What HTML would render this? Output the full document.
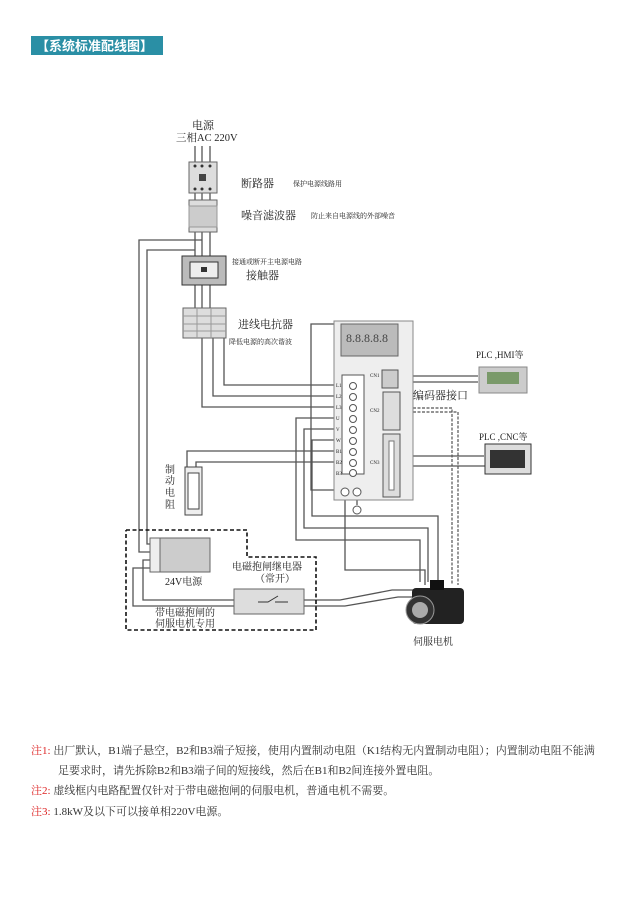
<!DOCTYPE html>
<html><head><meta charset="utf-8"><style>
body{margin:0;background:#fff;width:636px;height:900px;overflow:hidden;font-family:"Liberation Serif","Noto Serif CJK SC",serif}
svg{position:absolute;left:0;top:0}
text{font-family:"Liberation Serif","Noto Serif CJK SC",serif;fill:#222}
.n{position:absolute;left:31px;font-size:11px;color:#333;line-height:20px}
.n b{color:#d22;font-weight:normal}
</style></head><body>
<svg width="636" height="900" viewBox="0 0 636 900">
<rect x="31" y="36" width="132" height="19" fill="#2a8fa5"/>
<text x="36" y="50.5" font-size="13" style="fill:#fff;font-family:'Liberation Sans','Noto Sans CJK SC',sans-serif;font-weight:bold">【系统标准配线图】</text>

<g fill="none" stroke="#555" stroke-width="1.3">
<path d="M195 146V165M202 146V165M210 146V165"/>
<path d="M195 193V201M202 193V201M210 193V201"/>
<path d="M195 232V257M202 232V257M210 232V257"/>
<path d="M195 285V309M202 285V309M210 285V309"/>
<path d="M202 240H139V552H152"/>
<path d="M195 250H147V544H152"/>
<path d="M224 330V385H342"/>
<path d="M213 330V396H342"/>
<path d="M202 330V407H342"/>
<path d="M342 418H296V540H420V582"/>
<path d="M342 429H304V528H428V582"/>
<path d="M342 440H312V516H438V582"/>
<path d="M342 451H187V468"/>
<path d="M342 462H196V468"/>
<path d="M345 495V570H425V585"/>
<path d="M357 495V505"/>
<path d="M342 324H311V490H342"/>
<path d="M413 376H478M413 382H478"/>
<path d="M413 456H484M413 466H502"/>
<path d="M152 560H143V600H234M152 568H133V606H234"/>
<path d="M304 600H340L392 590H440M304 606H345L398 597H442"/>
</g>
<g fill="none" stroke="#555" stroke-width="1.2" stroke-dasharray="3,1.5">
<path d="M413 408H452V585M413 412H458V585"/>
</g>
<polyline points="126,530 247,530 247,557 316,557 316,630 126,630 126,530" fill="none" stroke="#111" stroke-width="1.6" stroke-dasharray="4,2.5"/>

<rect x="189" y="162" width="28" height="31" fill="#ddd" stroke="#666"/>
<rect x="199" y="174" width="7" height="7" fill="#444"/>
<circle cx="195" cy="166" r="1.5" fill="#333"/><circle cx="202" cy="166" r="1.5" fill="#333"/><circle cx="210" cy="166" r="1.5" fill="#333"/>
<circle cx="195" cy="189" r="1.5" fill="#333"/><circle cx="202" cy="189" r="1.5" fill="#333"/><circle cx="210" cy="189" r="1.5" fill="#333"/>
<rect x="189" y="200" width="28" height="32" fill="#ddd" stroke="#666"/>
<rect x="189" y="206" width="28" height="21" fill="#ccc" stroke="#999"/>
<rect x="182" y="256" width="44" height="29" fill="#bbb" stroke="#333"/>
<rect x="190" y="262" width="28" height="16" fill="#eee" stroke="#333"/>
<rect x="201" y="267" width="6" height="5" fill="#333"/>
<rect x="183" y="308" width="43" height="30" fill="#ddd" stroke="#666"/>
<path d="M197 308V338M211 308V338M183 316H226M183 324H226M183 331H226" stroke="#999"/>

<rect x="334" y="321" width="79" height="179" fill="#eee" stroke="#888"/>
<rect x="341" y="324" width="57" height="32" fill="#bbb" stroke="#666"/>
<text x="346" y="342" font-size="12" style="fill:#444">8.8.8.8.8</text>
<rect x="342" y="375" width="22" height="99" fill="#fff" stroke="#555"/>
<g font-size="5" style="fill:#111;font-family:'Liberation Sans',sans-serif">
<text x="336" y="387">L1</text><text x="336" y="398">L2</text><text x="336" y="409">L3</text><text x="336" y="420">U</text><text x="336" y="431">V</text><text x="336" y="442">W</text><text x="336" y="453">B1</text><text x="336" y="464">B2</text><text x="336" y="475">B3</text>
<text x="370" y="377">CN1</text><text x="370" y="412">CN2</text><text x="370" y="464">CN3</text>
</g>
<g fill="#fff" stroke="#555"><circle cx="353" cy="386" r="3.5"/><circle cx="353" cy="397" r="3.5"/><circle cx="353" cy="408" r="3.5"/><circle cx="353" cy="419" r="3.5"/><circle cx="353" cy="430" r="3.5"/><circle cx="353" cy="441" r="3.5"/><circle cx="353" cy="452" r="3.5"/><circle cx="353" cy="463" r="3.5"/><circle cx="353" cy="473" r="3.5"/>
<circle cx="345" cy="492" r="4"/><circle cx="357" cy="492" r="4"/><circle cx="357" cy="510" r="4"/></g>
<rect x="382" y="370" width="16" height="18" fill="#ccc" stroke="#555"/>
<rect x="383" y="392" width="17" height="38" fill="#ddd" stroke="#555"/>
<rect x="383" y="434" width="17" height="63" fill="#ddd" stroke="#555"/>
<rect x="389" y="441" width="5" height="49" fill="#fff" stroke="#777"/>

<rect x="185" y="467" width="17" height="48" fill="#eee" stroke="#444"/>
<rect x="188" y="473" width="11" height="36" fill="#fff" stroke="#444"/>
<rect x="150" y="538" width="60" height="34" fill="#ccc" stroke="#666"/>
<rect x="150" y="538" width="10" height="34" fill="#eee" stroke="#666"/>
<rect x="234" y="589" width="70" height="25" fill="#ddd" stroke="#666"/>
<path d="M258 602H268L278 596M275 602H288" stroke="#333" fill="none"/>
<rect x="412" y="588" width="52" height="36" rx="4" fill="#222"/>
<circle cx="420" cy="610" r="14" fill="#333" stroke="#999"/>
<circle cx="420" cy="610" r="8" fill="#aaa"/>
<rect x="430" y="580" width="14" height="10" fill="#111"/>
<rect x="479" y="367" width="48" height="26" fill="#ccc" stroke="#888"/>
<rect x="487" y="372" width="32" height="12" fill="#7a9a6a"/>
<rect x="485" y="444" width="46" height="30" fill="#ddd" stroke="#333"/>
<rect x="490" y="450" width="35" height="18" fill="#333"/>

<g font-size="11">
<text x="192" y="129">电源</text>
<text x="176" y="141" font-size="10.5">三相AC 220V</text>
<text x="241" y="187">断路器</text>
<text x="293" y="186" font-size="7">保护电源线路用</text>
<text x="241" y="219">噪音滤波器</text>
<text x="311" y="218" font-size="7">防止来自电源线的外部噪音</text>
<text x="232" y="264" font-size="7">接通或断开主电源电路</text>
<text x="246" y="279">接触器</text>
<text x="238" y="328">进线电抗器</text>
<text x="229" y="344" font-size="7">降低电源的高次谐波</text>
<text x="476" y="358" font-size="9">PLC ,HMI等</text>
<text x="413" y="399">编码器接口</text>
<text x="479" y="440" font-size="9">PLC ,CNC等</text>
<text x="165" y="473" font-size="10">制</text><text x="165" y="484" font-size="10">动</text><text x="165" y="496" font-size="10">电</text><text x="165" y="508" font-size="10">阻</text>
<text x="165" y="585" font-size="10">24V电源</text>
<text x="232" y="570" font-size="10">电磁抱闸继电器</text>
<text x="255" y="582" font-size="10">（常开）</text>
<text x="155" y="616" font-size="10">带电磁抱闸的</text>
<text x="155" y="627" font-size="10">伺服电机专用</text>
<text x="413" y="645" font-size="10">伺服电机</text>
</g>
</svg>
<div class="n" style="top:741px"><b>注1:</b> 出厂默认，B1端子悬空，B2和B3端子短接，使用内置制动电阻（K1结构无内置制动电阻）；内置制动电阻不能满</div>
<div class="n" style="top:761px;left:58px">足要求时，请先拆除B2和B3端子间的短接线，然后在B1和B2间连接外置电阻。</div>
<div class="n" style="top:781px"><b>注2:</b> 虚线框内电路配置仅针对于带电磁抱闸的伺服电机，普通电机不需要。</div>
<div class="n" style="top:802px"><b>注3:</b> 1.8kW及以下可以接单相220V电源。</div>
</body></html>
